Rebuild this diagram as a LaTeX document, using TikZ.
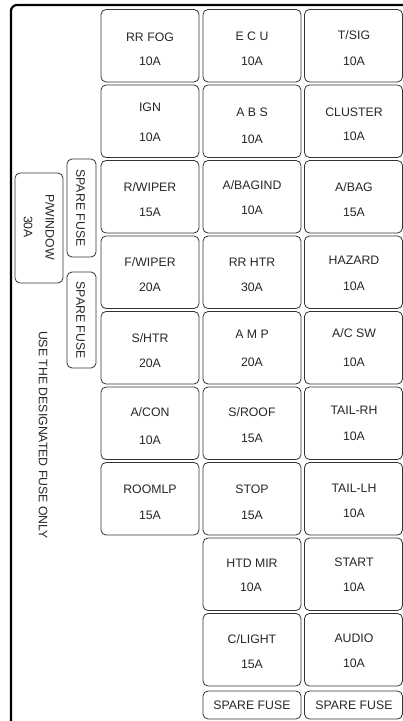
\documentclass[tikz,border=0pt]{standalone}
\usepackage{fontspec}
\setmainfont{Liberation Sans}
\begin{document}
\begin{tikzpicture}[x=1pt,y=-1pt,
  fusebox/.style={draw=black!80, line width=0.8pt, rounded corners=5pt, inner sep=0pt, minimum width=98pt},
  lbl/.style={font=\fontsize{12.3}{14}\selectfont, text=black!85, inner sep=0pt},
  outline/.style={draw=black, line width=2.2pt, rounded corners=6pt}]
\useasboundingbox (0,0) rectangle (403,721);
% outer frame
\coordinate (fa) at (11,721);
\coordinate (fb) at (11,5);
\coordinate (fc) at (403,5);
\draw[outline] (fa) -- (fb) -- (fc);

% column centres: 150, 252, 353.5 ; row tops 9.5 + 75.5 k, height 72.5
% column 1
\node[fusebox, minimum height=72.5pt] (a1) at (150,45.75) {};
\node[fusebox, minimum height=72.5pt] (a2) at (150,121.25) {};
\node[fusebox, minimum height=72.5pt] (a3) at (150,196.75) {};
\node[fusebox, minimum height=72.5pt] (a4) at (150,272.25) {};
\node[fusebox, minimum height=72.5pt] (a5) at (150,347.75) {};
\node[fusebox, minimum height=72.5pt] (a6) at (150,423.25) {};
\node[fusebox, minimum height=72.5pt] (a7) at (150,498.75) {};
% column 2
\node[fusebox, minimum height=72.5pt] (b1) at (252,45.75) {};
\node[fusebox, minimum height=72.5pt] (b2) at (252,121.25) {};
\node[fusebox, minimum height=72.5pt] (b3) at (252,196.75) {};
\node[fusebox, minimum height=72.5pt] (b4) at (252,272.25) {};
\node[fusebox, minimum height=72.5pt] (b5) at (252,347.75) {};
\node[fusebox, minimum height=72.5pt] (b6) at (252,423.25) {};
\node[fusebox, minimum height=72.5pt] (b7) at (252,498.75) {};
\node[fusebox, minimum height=72.5pt] (b8) at (252,574.25) {};
\node[fusebox, minimum height=72.5pt] (b9) at (252,649.75) {};
\node[fusebox, minimum height=28pt] (bs) at (252,705) {};
% column 3
\node[fusebox, minimum height=72.5pt] (c1) at (353.5,45.75) {};
\node[fusebox, minimum height=72.5pt] (c2) at (353.5,121.25) {};
\node[fusebox, minimum height=72.5pt] (c3) at (353.5,196.75) {};
\node[fusebox, minimum height=72.5pt] (c4) at (353.5,272.25) {};
\node[fusebox, minimum height=72.5pt] (c5) at (353.5,347.75) {};
\node[fusebox, minimum height=72.5pt] (c6) at (353.5,423.25) {};
\node[fusebox, minimum height=72.5pt] (c7) at (353.5,498.75) {};
\node[fusebox, minimum height=72.5pt] (c8) at (353.5,574.25) {};
\node[fusebox, minimum height=72.5pt] (c9) at (353.5,649.75) {};
\node[fusebox, minimum height=28pt] (cs) at (353.5,705) {};

% labels column 1
\node[lbl] (ta1) at (150,37) {RR FOG};   \node[lbl] (sa1) at (150,61) {10A};
\node[lbl] (ta2) at (150,107) {IGN};     \node[lbl] (sa2) at (150,137) {10A};
\node[lbl] (ta3) at (150,187) {R/WIPER}; \node[lbl] (sa3) at (150,212) {15A};
\node[lbl] (ta4) at (150,262) {F/WIPER}; \node[lbl] (sa4) at (150,287) {20A};
\node[lbl] (ta5) at (150,338) {S/HTR};   \node[lbl] (sa5) at (150,363) {20A};
\node[lbl] (ta6) at (150,412) {A/CON};   \node[lbl] (sa6) at (150,440) {10A};
\node[lbl] (ta7) at (150,489) {ROOMLP};  \node[lbl] (sa7) at (150,515) {15A};
% labels column 2
\node[lbl] (tb1) at (252,36) {E C U};    \node[lbl] (sb1) at (252,61) {10A};
\node[lbl] (tb2) at (252,112.5) {A B S}; \node[lbl] (sb2) at (252,139) {10A};
\node[lbl] (tb3) at (252,185) {A/BAGIND};\node[lbl] (sb3) at (252,210) {10A};
\node[lbl] (tb4) at (252,262) {RR HTR};  \node[lbl] (sb4) at (252,287) {30A};
\node[lbl] (tb5) at (252,334) {A M P};   \node[lbl] (sb5) at (252,362) {20A};
\node[lbl] (tb6) at (252,412) {S/ROOF};  \node[lbl] (sb6) at (252,438) {15A};
\node[lbl] (tb7) at (252,489) {STOP};    \node[lbl] (sb7) at (252,515) {15A};
\node[lbl] (tb8) at (252,563) {HTD MIR}; \node[lbl] (sb8) at (251,587) {10A};
\node[lbl] (tb9) at (252,639) {C/LIGHT}; \node[lbl] (sb9) at (252,664) {15A};
\node[lbl] (tbs) at (252,705) {SPARE FUSE};
% labels column 3
\node[lbl] (tc1) at (354,35) {T/SIG};    \node[lbl] (sc1) at (354,61) {10A};
\node[lbl] (tc2) at (354,112) {CLUSTER}; \node[lbl] (sc2) at (354,136) {10A};
\node[lbl] (tc3) at (354,187) {A/BAG};   \node[lbl] (sc3) at (354,212) {15A};
\node[lbl] (tc4) at (354,260) {HAZARD};  \node[lbl] (sc4) at (354,286) {10A};
\node[lbl] (tc5) at (354,333) {A/C SW};  \node[lbl] (sc5) at (354,362) {10A};
\node[lbl] (tc6) at (354,410) {TAIL-RH}; \node[lbl] (sc6) at (354,436) {10A};
\node[lbl] (tc7) at (354,488) {TAIL-LH}; \node[lbl] (sc7) at (354,513) {10A};
\node[lbl] (tc8) at (354,562) {START};   \node[lbl] (sc8) at (354,587) {10A};
\node[lbl] (tc9) at (354,638) {AUDIO};   \node[lbl] (sc9) at (354,663) {10A};
\node[lbl] (tcs) at (354,705) {SPARE FUSE};

% vertical spare fuses
\node[fusebox, minimum width=29pt, minimum height=98pt] (sp1) at (81.5,208) {};
\node[fusebox, minimum width=29pt, minimum height=96pt] (sp2) at (81.5,320) {};
\node[lbl, rotate=-90] (tsp1) at (80.5,208) {SPARE FUSE};
\node[lbl, rotate=-90] (tsp2) at (80.5,320) {SPARE FUSE};

% P/WINDOW
\node[fusebox, minimum width=48pt, minimum height=110pt] (pw) at (39,228) {};
\node[lbl, rotate=-90] (tpw) at (50,227) {P/WINDOW};
\node[lbl, rotate=-90] (spw) at (28,227) {30A};

% note
\node[lbl, rotate=-90] (note) at (43,435) {USE THE DESIGNATED FUSE ONLY};
\end{tikzpicture}
\end{document}
